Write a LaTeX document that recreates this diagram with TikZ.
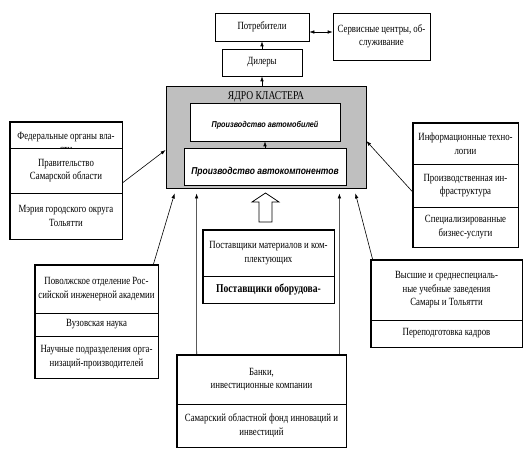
\documentclass[tikz,border=0pt]{standalone}
\usepackage{fontspec}
\setmainfont{Liberation Serif}[FakeStretch=0.8]
\newfontfamily\prodfont{Liberation Sans}[FakeStretch=0.85]
\usetikzlibrary{positioning, arrows.meta}

\begin{document}
\begin{tikzpicture}[x=1pt,y=-1pt,
        cell/.style={draw,line width=0.6pt,align=center,inner sep=1pt,font=\fontsize{11}{13.5}\selectfont},
        frame/.style={draw,line width=1.4pt},
        prod/.style={draw,line width=0.6pt,fill=white,inner sep=1pt,font=\prodfont\bfseries\itshape},
        arr/.style={line width=0.6pt,-{Latex[length=5pt,width=3.5pt]}},
        biarr/.style={line width=0.6pt,{Latex[length=5pt,width=3.5pt]}-{Latex[length=5pt,width=3.5pt]}}]
    \useasboundingbox (0,0) rectangle (525,457);

    \node[cell,minimum width=94pt,minimum height=28pt] (potr) at (262,27) {Потребители};
    \node[cell,minimum width=97pt,minimum height=47pt] (serv) at (381.5,36.5) {Сервисные центры, об-\\служивание};
    \node[cell,minimum width=80pt,minimum height=27pt] (dil) at (262,62.5) {Дилеры};

    \node[draw,line width=0.8pt,fill=gray!50,minimum width=200pt,minimum height=102pt] (core) at (266,137) {};
    \node[font=\fontsize{12}{14}\selectfont,below=2pt of core.north] (title) {ЯДРО КЛАСТЕРА};
    \node[prod,minimum width=150pt,minimum height=38pt,text height=15pt,text depth=3pt,font=\prodfont\bfseries\itshape\fontsize{8.5}{10}\selectfont] (avto) at (265,122) {Производство автомобилей};
    \node[prod,minimum width=162pt,minimum height=37pt,text height=20pt,text depth=3pt,font=\prodfont\bfseries\itshape\fontsize{10}{12}\selectfont] (komp) at (265,166.5) {Производство автокомпонентов};

    \node[cell,minimum width=112pt,minimum height=26pt] (fed) at (66,135) {};
    \begin{scope}
        \clip (fed.south west) rectangle (fed.north east);
        \node[cell,draw=none,anchor=north] at ([yshift=-9pt]fed.north) {Федеральные органы вла-\\сти};
    \end{scope}
    \node[cell,minimum width=112pt,minimum height=45pt] (prav) at (66,170.5) {Правительство\\Самарской области};
    \node[cell,minimum width=112pt,minimum height=46pt] (mer) at (66,216) {Мэрия городского округа\\Тольятти};
    \draw[frame] (fed.north west) rectangle (mer.south east);

    \node[cell,minimum width=105pt,minimum height=41pt] (inf) at (465.5,143.5) {Информационные техно-\\логии};
    \node[cell,minimum width=105pt,minimum height=43pt] (proi) at (465.5,185.5) {Производственная ин-\\фраструктура};
    \node[cell,minimum width=105pt,minimum height=40pt] (spec) at (465.5,227) {Специализированные\\бизнес-услуги};
    \draw[frame,line width=1pt] (inf.north west) rectangle (spec.south east);

    \node[cell,minimum width=123pt,minimum height=48pt] (povol) at (96.5,289) {Поволжское отделение Рос-\\сийской инженерной академии};
    \node[cell,minimum width=123pt,minimum height=23pt] (vuz) at (96.5,324.5) {Вузовская наука};
    \node[cell,minimum width=123pt,minimum height=42pt] (nauch) at (96.5,357) {Научные подразделения орга-\\низаций-производителей};
    \draw[frame] (povol.north west) rectangle (nauch.south east);

    \node[cell,minimum width=151pt,minimum height=60pt] (vys) at (446.5,290) {Высшие и среднеспециаль-\\ные учебные заведения\\Самары и Тольятти};
    \node[cell,minimum width=151pt,minimum height=27pt] (perep) at (446.5,333.5) {Переподготовка кадров};
    \draw[frame,line width=0.9pt] (vys.north west) rectangle (perep.south east);

    \node[cell,minimum width=131pt,minimum height=46pt] (mat) at (268.5,253) {Поставщики материалов и ком-\\плектующих};
    \node[cell,minimum width=131pt,minimum height=27pt,font=\bfseries\fontsize{12}{14}\selectfont] (obor) at (268.5,289.5) {Поставщики оборудова-};
    \draw[frame,line width=1.6pt] (mat.north west) rectangle (obor.south east);

    \node[cell,minimum width=169pt,minimum height=49pt] (bnk) at (261.5,379.5) {Банки,\\инвестиционные компании};
    \node[cell,minimum width=169pt,minimum height=43pt] (fond) at (261.5,425.5) {Самарский областной фонд инноваций и\\инвестиций};
    \draw[frame,line width=1.2pt] (bnk.north west) rectangle (fond.south east);

    \draw[arr] (dil.north) -- (potr.south);
    \draw[arr] (dil.south |- core.north) -- (dil.south);
    \draw[biarr] ([yshift=-5pt]potr.east) -- ([yshift=-5pt]potr.east -| serv.west);
    \draw[arr] (komp.north) -- (avto.south);
    \draw[arr] ([yshift=-12.5pt]prav.east) -- ([yshift=-13pt]core.west);
    \draw[arr] ([yshift=-6.5pt]proi.west) -- ([yshift=-4pt]core.east);
    \draw[arr] ([xshift=-5pt]povol.north east) -- ([shift={(9,5)}]core.south west);
    \draw[arr] ([xshift=2pt]vys.north west) -- ([shift={(-11,5)}]core.south east);
    \draw[arr] ([xshift=20pt]bnk.north west) -- ([shift={(31,5)}]core.south west);
    \draw[arr] ([xshift=-7pt]bnk.north east) -- ([shift={(-27,5)}]core.south east);
    \draw[line width=0.7pt,fill=white] (259,222) -- (259,202) -- (252,202) -- (265.5,193) -- (279,202) -- (272,202) -- (272,222) -- cycle;
\end{tikzpicture}
\end{document}
